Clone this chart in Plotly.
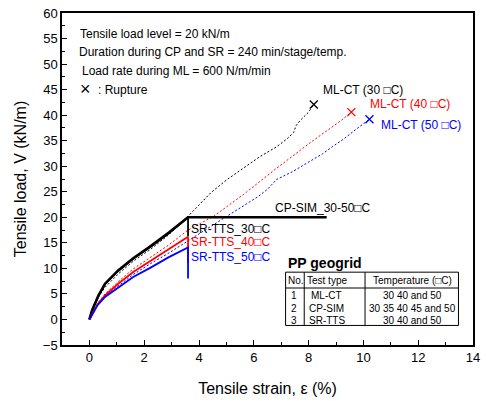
import plotly.graph_objects as go

# ---------------- data ----------------
# ML-CT (monotonic loading, dashed)
ml30_x = [0, 0.15, 0.33, 0.57, 1.05, 1.6, 2.25, 2.9, 3.6, 4.43, 5.0, 5.63, 6.2, 6.83, 7.2, 7.45, 7.55, 7.7, 8.0, 8.19]
ml30_y = [0, 2.5, 4.4, 6.3, 8.9, 11.4, 13.8, 16.6, 20.2, 24.8, 27.3, 29.6, 31.8, 33.8, 35.3, 36.6, 38.0, 39.0, 40.6, 42.1]
ml40_x = [0, 0.3, 0.57, 1.05, 1.6, 2.25, 2.9, 3.6, 4.55, 5.63, 6.83, 8.03, 8.86, 9.2, 9.56]
ml40_y = [0, 3.2, 5.0, 7.4, 9.9, 12.2, 14.6, 17.5, 20.25, 24.5, 29.6, 34.5, 37.7, 39.0, 40.6]
ml50_x = [0, 0.3, 0.57, 1.05, 1.6, 2.25, 2.9, 3.6, 4.3, 5.03, 5.5, 6.17, 6.5, 6.83, 7.4, 8.03, 8.5, 8.86, 9.3, 9.7, 9.94, 10.22]
ml50_y = [0, 3.0, 4.6, 6.6, 8.8, 11.0, 13.0, 15.4, 17.8, 20.25, 21.8, 24.1, 25.5, 27.4, 28.9, 30.9, 32.4, 33.8, 35.4, 37.1, 38.1, 39.2]

# CP-SIM (creep, thick solid black)
cp_x = [0, 0.1, 0.33, 0.57, 1.05, 1.6, 2.25, 2.9, 3.6, 8.66]
cp_y = [0, 1.8, 4.7, 7.0, 9.6, 12.0, 14.4, 17.0, 20.0, 20.0]

# SR-TTS (stress relaxation, solid)
sr30_x = [0, 0.1, 0.33, 0.57, 1.05, 1.6, 2.25, 2.9, 3.6, 3.6]
sr30_y = [0, 1.8, 4.6, 6.9, 9.5, 11.9, 14.3, 16.9, 20.0, 16.3]
sr40_x = [0, 0.3, 0.57, 1.05, 1.6, 2.25, 2.9, 3.6, 3.6]
sr40_y = [0, 3.0, 4.7, 7.0, 9.3, 11.5, 13.8, 16.2, 11.0]
sr50_x = [0, 0.3, 0.57, 1.05, 1.6, 2.25, 2.9, 3.6, 3.6]
sr50_y = [0, 2.8, 4.4, 6.3, 8.3, 10.2, 12.2, 14.1, 8.0]

x_ticks = [0, 2, 4, 6, 8, 10, 12, 14]
y_ticks = [-5, 0, 5, 10, 15, 20, 25, 30, 35, 40, 45, 50, 55, 60]

table_rows = [("No.", "Test type", "Temperature (\u25a1C)"),
              ("1", "ML-CT", "30 40 and 50"),
              ("2", "CP-SIM", "30 35 40 45 and 50"),
              ("3", "SR-TTS", "30 40 and 50")]

FONT = "Liberation Sans, Arial, sans-serif"
BLACK, RED, BLUE = "#000000", "#ff0000", "#0000ff"

fig = go.Figure()

def dashed(x, y, c):
    fig.add_trace(go.Scatter(x=x, y=y, mode="lines",
                             line=dict(color=c, width=1, dash="2px,2px"),
                             showlegend=False, hoverinfo="skip"))

def solid(x, y, c, w):
    fig.add_trace(go.Scatter(x=x, y=y, mode="lines",
                             line=dict(color=c, width=w),
                             showlegend=False, hoverinfo="skip"))

dashed(ml30_x, ml30_y, BLACK)
dashed(ml40_x, ml40_y, RED)
dashed(ml50_x, ml50_y, BLUE)
solid(cp_x, cp_y, BLACK, 2.6)
solid(sr30_x, sr30_y, BLACK, 1.8)
solid(sr40_x, sr40_y, RED, 1.8)
solid(sr50_x, sr50_y, BLUE, 1.8)

# rupture markers
for xs, ys, c in [(ml30_x, ml30_y, BLACK), (ml40_x, ml40_y, RED), (ml50_x, ml50_y, BLUE)]:
    fig.add_trace(go.Scatter(x=[xs[-1]], y=[ys[-1]], mode="markers",
                             marker=dict(symbol="x-thin-open", size=8, color=c,
                                         line=dict(color=c, width=1.3)),
                             showlegend=False, hoverinfo="skip"))

ann = []
def txt(x, y, s, c=BLACK, size=12, xa="left", bold=False):
    ann.append(dict(x=x, y=y, xref="x", yref="y", text=("<b>%s</b>" % s) if bold else s,
                    showarrow=False, xanchor=xa, yanchor="middle",
                    font=dict(family=FONT, size=size, color=c)))

txt(-0.43, 55.9, "Tensile load level = 20 kN/m")
txt(-0.46, 52.3, "Duration during CP and SR = 240 min/stage/temp.")
txt(-0.33, 48.7, "Load rate during ML = 600 N/m/min")
txt(-0.4, 45.2, "\u00d7", size=18)
txt(0.24, 45.0, ": Rupture")

txt(8.44, 45.0, "ML-CT (30 \u25a1C)", BLACK)
txt(10.17, 42.27, "ML-CT (40 \u25a1C)", RED)
txt(10.56, 38.06, "ML-CT (50 \u25a1C)", BLUE)
txt(6.71, 21.88, "CP-SIM_30-50\u25a1C", BLACK)
txt(3.65, 17.67, "SR-TTS_30\u25a1C", BLACK)
txt(3.65, 15.09, "SR-TTS_40\u25a1C", RED)
txt(3.65, 12.17, "SR-TTS_50\u25a1C", BLUE)
txt(7.19, 11.07, "PP geogrid", BLACK, size=14, bold=True)

# table
row_y = [7.6, 4.66, 2.14, -0.14]
for i, (ry, (a, b, c)) in enumerate(zip(row_y, table_rows)):
    txt(7.17 if i == 0 else 7.27, ry, a, size=10)
    txt(8.66, ry, b, size=10, xa="center")
    txt(11.8, ry, c, size=10, xa="center")

shapes = []
t_l, t_r, t_t, t_b = 7.16, 13.47, 9.26, -1.17
shapes.append(dict(type="rect", xref="x", yref="y", x0=t_l, x1=t_r, y0=t_b, y1=t_t,
                   line=dict(color=BLACK, width=1)))
shapes.append(dict(type="line", xref="x", yref="y", x0=t_l, x1=t_r, y0=6.16, y1=6.16,
                   line=dict(color=BLACK, width=1)))
for cx in [7.84, 10.06]:
    shapes.append(dict(type="line", xref="x", yref="y", x0=cx, x1=cx, y0=t_b, y1=t_t,
                       line=dict(color=BLACK, width=1)))

fig.update_layout(
    width=486, height=401,
    margin=dict(l=62, r=6, t=12, b=54),
    paper_bgcolor="white", plot_bgcolor="white",
    font=dict(family=FONT, size=13, color=BLACK),
    annotations=ann, shapes=shapes,
    xaxis=dict(range=[-1, 14], tickvals=x_ticks, ticks="inside", ticklen=5,
               tickwidth=1, tickcolor=BLACK, showline=True, linecolor=BLACK,
               linewidth=1.5, mirror=True, showgrid=False, zeroline=False,
               minor=dict(dtick=1, tick0=0, ticks="inside", ticklen=3, tickcolor=BLACK),
               tickfont=dict(size=13),
               title=dict(text="Tensile strain, \u03b5 (%)", font=dict(size=16), standoff=18)),
    yaxis=dict(range=[-5, 60], tickvals=y_ticks, ticks="inside", ticklen=5,
               tickwidth=1, tickcolor=BLACK, showline=True, linecolor=BLACK,
               linewidth=1.5, mirror=True, showgrid=False, zeroline=False,
               minor=dict(dtick=2.5, tick0=0, ticks="inside", ticklen=3, tickcolor=BLACK),
               tickfont=dict(size=13),
               title=dict(text="Tensile load, V (kN/m)", font=dict(size=16), standoff=12)),
)

fig.write_html("out.html")
